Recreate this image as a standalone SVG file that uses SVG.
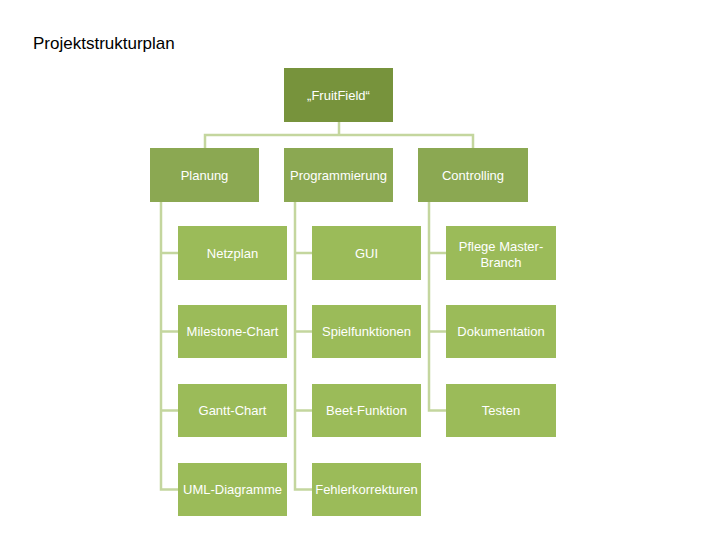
<svg xmlns="http://www.w3.org/2000/svg" width="720" height="540" viewBox="0 0 720 540">
<style>
.root{fill:#77933C}
.l1{fill:#8BA852}
.l2{fill:#9BBB59}
.t{font-family:"Liberation Sans",Arial,sans-serif;font-size:13px;fill:#FFFFFF;text-anchor:middle;dominant-baseline:central}
.title{font-family:"Liberation Sans",Arial,sans-serif;font-size:17px;fill:#000000}
.c{fill:none;stroke:#C4D69E;stroke-width:2.5}
</style>
<rect width="720" height="540" fill="#FFFFFF"/>
<text class="title" x="33" y="49">Projektstrukturplan</text>
<g id="connectors">
<path class="c" d="M339,122 V135 M205,148 V135 H473 V148"/>
<path class="c" d="M161,202 V489.5 H178 M161,253 H178 M161,331.5 H178 M161,410.5 H178"/>
<path class="c" d="M295,202 V489.5 H312 M295,253 H312 M295,331.5 H312 M295,410.5 H312"/>
<path class="c" d="M429,202 V410.5 H446 M429,253 H446 M429,331.5 H446"/>
</g>
<g id="fruitfield"><rect class="root" x="284" y="68" width="109" height="54"/><text class="t" x="338.5" y="95">„FruitField“</text></g>
<g id="planung"><rect class="l1" x="150" y="148" width="109" height="54"/><text class="t" x="204.5" y="175">Planung</text></g>
<g id="programmierung"><rect class="l1" x="284" y="148" width="109" height="54"/><text class="t" x="338.5" y="175">Programmierung</text></g>
<g id="controlling"><rect class="l1" x="418" y="148" width="110" height="54"/><text class="t" x="473" y="175">Controlling</text></g>
<g id="netzplan"><rect class="l2" x="178" y="226" width="109" height="54"/><text class="t" x="232.5" y="253">Netzplan</text></g>
<g id="milestone"><rect class="l2" x="178" y="305" width="109" height="53"/><text class="t" x="232.5" y="331.5">Milestone-Chart</text></g>
<g id="gantt"><rect class="l2" x="178" y="384" width="109" height="53"/><text class="t" x="232.5" y="410.5">Gantt-Chart</text></g>
<g id="uml"><rect class="l2" x="178" y="463" width="109" height="53"/><text class="t" x="232.5" y="489.5">UML-Diagramme</text></g>
<g id="gui"><rect class="l2" x="312" y="226" width="109" height="54"/><text class="t" x="366.5" y="253">GUI</text></g>
<g id="spielfunktionen"><rect class="l2" x="312" y="305" width="109" height="53"/><text class="t" x="366.5" y="331.5">Spielfunktionen</text></g>
<g id="beet"><rect class="l2" x="312" y="384" width="109" height="53"/><text class="t" x="366.5" y="410.5">Beet-Funktion</text></g>
<g id="fehler"><rect class="l2" x="312" y="463" width="109" height="53"/><text class="t" x="366.5" y="489.5">Fehlerkorrekturen</text></g>
<g id="pflege"><rect class="l2" x="446" y="226" width="110" height="54"/><text class="t" x="501" y="246">Pflege Master-</text><text class="t" x="501" y="262">Branch</text></g>
<g id="doku"><rect class="l2" x="446" y="305" width="110" height="53"/><text class="t" x="501" y="331.5">Dokumentation</text></g>
<g id="testen"><rect class="l2" x="446" y="384" width="110" height="53"/><text class="t" x="501" y="410.5">Testen</text></g>
</svg>
